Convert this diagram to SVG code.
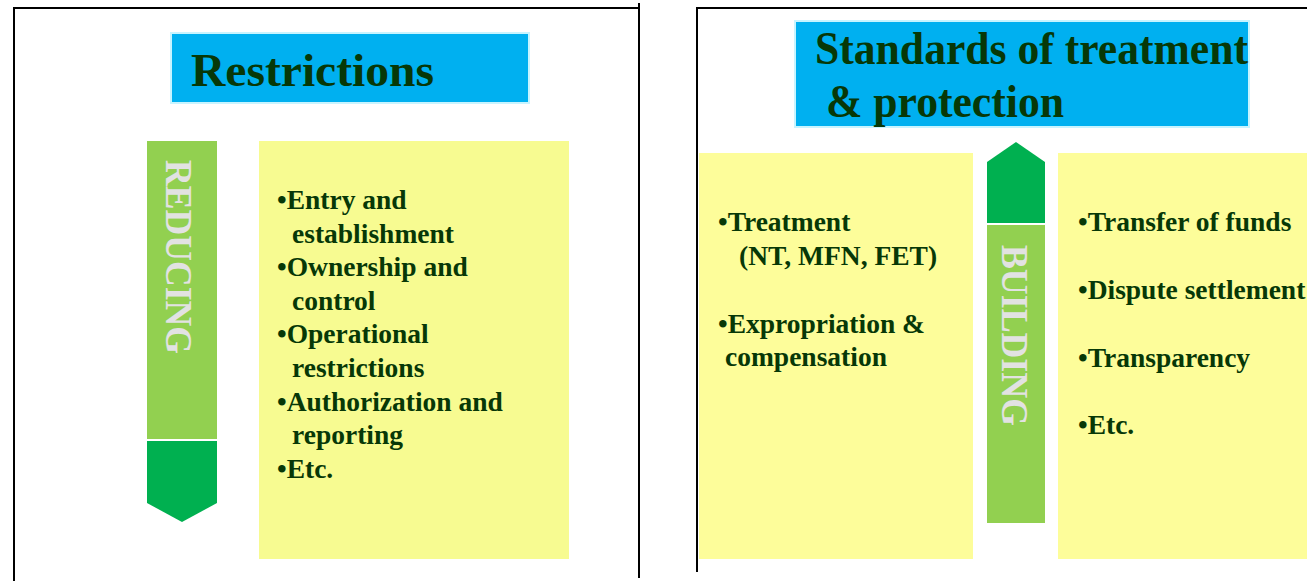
<svg xmlns="http://www.w3.org/2000/svg" width="1307" height="581" viewBox="0 0 1307 581">
  <style>
    .frame { stroke: #000; stroke-width: 2; fill: none; }
    .title-box { fill: #00B0F0; stroke: #C8F4FF; stroke-width: 2; }
    .title { font-family: "Liberation Serif", "Times New Roman", serif; font-weight: bold; font-size: 46px; fill: #073807; }
    .item { font-family: "Liberation Serif", "Times New Roman", serif; font-weight: bold; font-size: 27.5px; fill: #073807; }
    .band { fill: #92D050; }
    .head { fill: #00B050; }
    .vlabel { font-family: "Liberation Serif", "Times New Roman", serif; font-weight: bold; font-size: 37px; fill: #E2E2E2; }
    .pad-l { fill: #F7FB91; }
    .pad-r { fill: #FDFD9A; }
  </style>

  <rect width="1307" height="581" fill="#fff"/>

  <!-- panel frames -->
  <g id="frames">
    <path class="frame" d="M14 581 V8 H639"/>
    <path class="frame" d="M639 3 V578"/>
    <path class="frame" d="M697 572 V8 H1307"/>
  </g>

  <!-- left panel: restrictions -->
  <g id="restrictions-title">
    <rect class="title-box" x="171" y="33" width="358" height="70"/>
    <text class="title" x="191" y="86" textLength="243" lengthAdjust="spacingAndGlyphs">Restrictions</text>
  </g>

  <g id="reducing-arrow">
    <rect class="band" x="147" y="141" width="70" height="298"/>
    <path class="head" d="M147 441 H217 V503 L182 522 L147 503 Z"/>
    <text class="vlabel" transform="translate(166,160) rotate(90)" textLength="194" lengthAdjust="spacingAndGlyphs">REDUCING</text>
  </g>

  <g id="restriction-list">
    <rect class="pad-l" x="259" y="141" width="310" height="418"/>
    <text class="item" x="277" y="209">•Entry and</text>
    <text class="item" x="292" y="243">establishment</text>
    <text class="item" x="277" y="276">•Ownership and</text>
    <text class="item" x="292" y="310">control</text>
    <text class="item" x="277" y="343">•Operational</text>
    <text class="item" x="292" y="377">restrictions</text>
    <text class="item" x="277" y="411">•Authorization and</text>
    <text class="item" x="292" y="444">reporting</text>
    <text class="item" x="277" y="478">•Etc.</text>
  </g>

  <!-- right panel: standards of treatment -->
  <g id="standards-title">
    <rect class="title-box" x="795" y="21" width="454" height="106"/>
    <text class="title" x="815" y="64" textLength="433" lengthAdjust="spacingAndGlyphs">Standards of treatment</text>
    <text class="title" x="826" y="117" textLength="238" lengthAdjust="spacingAndGlyphs">&amp; protection</text>
  </g>

  <g id="treatment-list">
    <rect class="pad-r" x="699" y="153" width="274" height="406"/>
    <text class="item" x="718" y="231">•Treatment</text>
    <text class="item" x="739" y="265">(NT, MFN, FET)</text>
    <text class="item" x="718" y="333">•Expropriation &amp;</text>
    <text class="item" x="725" y="366">compensation</text>
  </g>

  <g id="building-arrow">
    <path class="head" d="M987 162 L1016 142 L1045 162 V223 H987 Z"/>
    <rect class="band" x="987" y="225" width="58" height="298"/>
    <text class="vlabel" transform="translate(1002,245) rotate(90)" textLength="181" lengthAdjust="spacingAndGlyphs">BUILDING</text>
  </g>

  <g id="protection-list">
    <rect class="pad-r" x="1058" y="153" width="249" height="406"/>
    <text class="item" x="1078" y="231">•Transfer of funds</text>
    <text class="item" x="1078" y="299">•Dispute settlement</text>
    <text class="item" x="1078" y="367">•Transparency</text>
    <text class="item" x="1078" y="434">•Etc.</text>
  </g>
</svg>
